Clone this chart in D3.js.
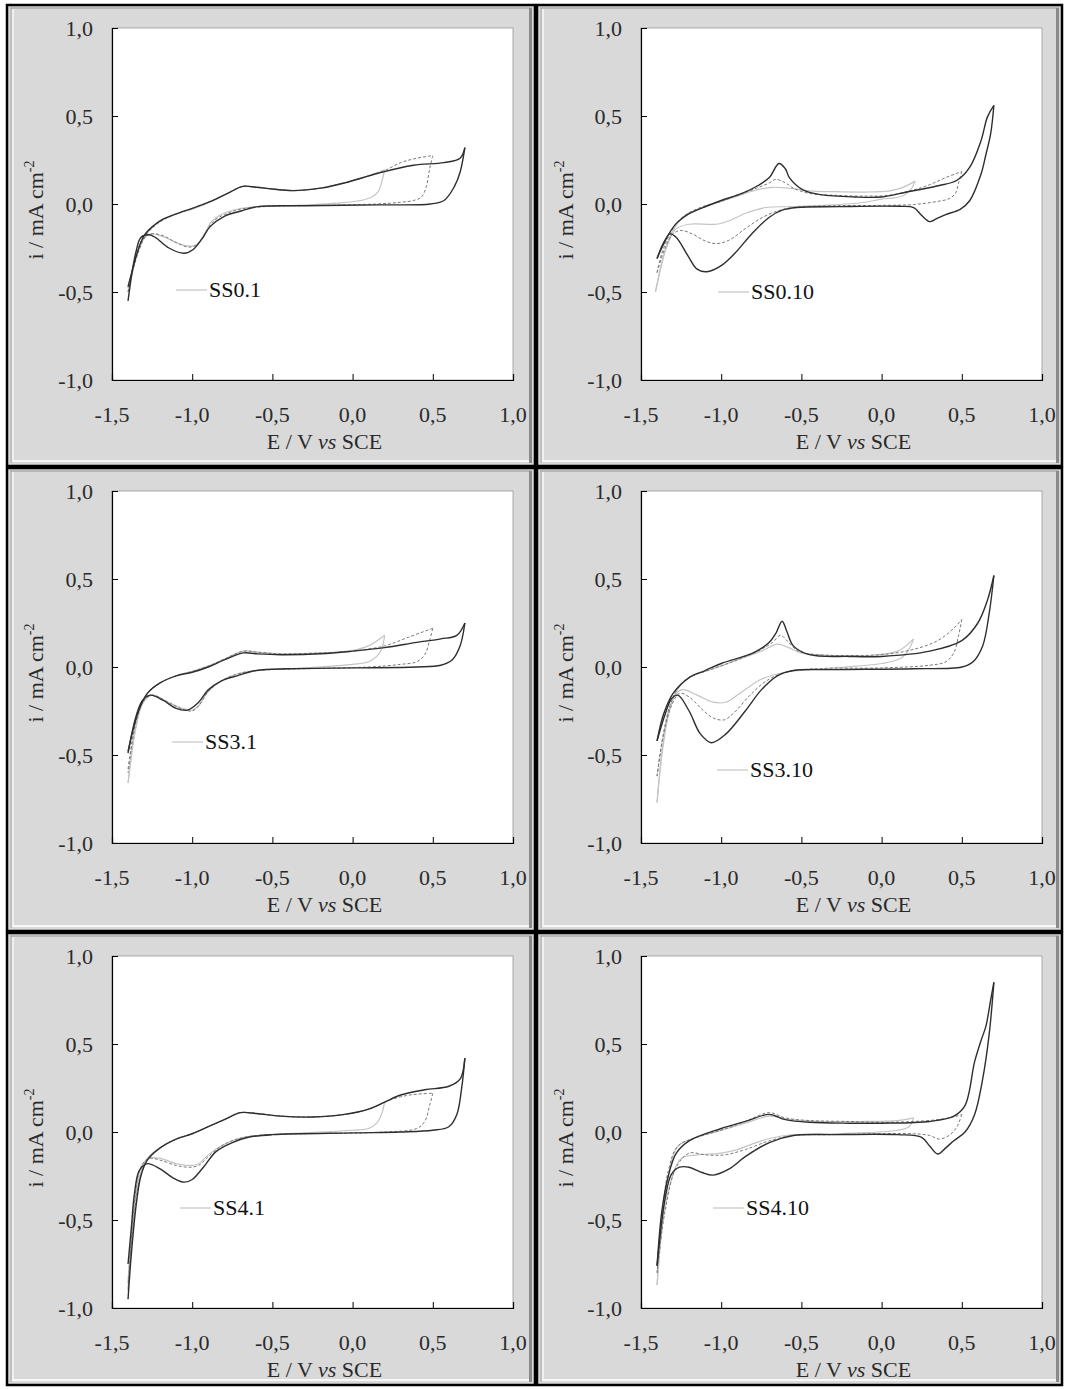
<!DOCTYPE html>
<html><head><meta charset="utf-8">
<script src="https://cdn.jsdelivr.net/npm/d3@7"></script>
<style>body{margin:0;background:#fff} svg{display:block}</style>
</head><body><svg id="c" width="1067" height="1389"></svg>
<script>
// ---- data ----
const xTicks = [-1.5, -1.0, -0.5, 0.0, 0.5, 1.0];
const yTicks = [-1.0, -0.5, 0.0, 0.5, 1.0];
const panelNames = ["SS0.1", "SS0.10", "SS3.1", "SS3.10", "SS4.1", "SS4.10"];
const xTitle = ["E / V ", "vs", " SCE"];
const yTitle = ["i / mA cm", "-2"];

// SS0.1
const ss01Black = [[-1.40,-0.47],[-1.38,-0.40],[-1.34,-0.27],[-1.30,-0.18],[-1.25,-0.13],[-1.19,-0.09],[-1.08,-0.05],[-1.00,-0.025],[-0.89,0.013],[-0.78,0.06],[-0.685,0.10],[-0.60,0.095],[-0.50,0.085],[-0.37,0.076],[-0.20,0.09],[-0.05,0.12],[0.16,0.175],[0.38,0.22],[0.57,0.235],[0.67,0.26],[0.70,0.32],
  [0.67,0.18],[0.635,0.10],[0.57,0.02],[0.485,0.0],[0.16,-0.005],[-0.30,-0.01],[-0.59,-0.015],[-0.695,-0.04],[-0.80,-0.07],[-0.89,-0.13],[-0.94,-0.20],[-0.996,-0.26],[-1.05,-0.28],[-1.145,-0.25],[-1.23,-0.19],[-1.27,-0.175],[-1.32,-0.19],[-1.35,-0.27],[-1.37,-0.36],[-1.40,-0.55]];
const ss01Dash = [[-1.40,-0.50],[-1.37,-0.38],[-1.33,-0.26],[-1.29,-0.18],[-1.24,-0.13],[-1.18,-0.09],[-1.08,-0.05],[-1.0,-0.025],[-0.89,0.013],[-0.78,0.06],[-0.685,0.10],[-0.60,0.095],[-0.50,0.085],[-0.37,0.076],[-0.20,0.09],[-0.05,0.12],[0.10,0.16],[0.20,0.19],[0.30,0.235],[0.40,0.26],[0.50,0.275],
  [0.48,0.20],[0.46,0.10],[0.43,0.04],[0.38,0.02],[0.30,0.01],[0.15,0.0],[-0.20,-0.008],[-0.55,-0.015],[-0.70,-0.03],[-0.80,-0.06],[-0.87,-0.10],[-0.92,-0.17],[-0.97,-0.23],[-1.02,-0.245],[-1.10,-0.22],[-1.18,-0.18],[-1.26,-0.17],[-1.31,-0.20],[-1.35,-0.30],[-1.40,-0.50]];
const ss01Light = [[-1.40,-0.48],[-1.36,-0.33],[-1.32,-0.22],[-1.27,-0.15],[-1.2,-0.1],[-1.08,-0.05],[-1.0,-0.03],[-0.89,0.01],[-0.78,0.06],[-0.685,0.10],[-0.6,0.095],[-0.5,0.085],[-0.37,0.076],[-0.2,0.09],[-0.05,0.12],[0.10,0.16],[0.20,0.195],
  [0.18,0.12],[0.16,0.07],[0.12,0.04],[0.05,0.02],[-0.1,0.005],[-0.4,-0.01],[-0.6,-0.015],[-0.72,-0.03],[-0.82,-0.06],[-0.88,-0.10],[-0.93,-0.18],[-0.98,-0.235],[-1.05,-0.235],[-1.12,-0.21],[-1.2,-0.18],[-1.26,-0.17],[-1.31,-0.21],[-1.35,-0.3],[-1.40,-0.48]];

// SS0.10
const ss010Black = [[-1.40,-0.31],[-1.37,-0.24],[-1.34,-0.19],[-1.28,-0.11],[-1.21,-0.06],[-1.085,-0.01],[-1.0,0.02],[-0.87,0.06],[-0.77,0.105],[-0.70,0.15],[-0.64,0.23],[-0.60,0.20],[-0.575,0.15],[-0.49,0.08],[-0.38,0.053],[-0.17,0.04],[0.0,0.04],[0.15,0.067],[0.255,0.085],[0.36,0.105],[0.47,0.135],[0.55,0.21],[0.62,0.36],[0.66,0.495],[0.70,0.56],
  [0.68,0.40],[0.65,0.28],[0.62,0.17],[0.55,0.02],[0.49,-0.03],[0.40,-0.06],[0.34,-0.085],[0.30,-0.10],[0.25,-0.065],[0.20,-0.02],[0.11,-0.013],[-0.27,-0.015],[-0.53,-0.02],[-0.62,-0.035],[-0.70,-0.075],[-0.81,-0.17],[-0.915,-0.28],[-1.0,-0.35],[-1.09,-0.385],[-1.15,-0.37],[-1.21,-0.29],[-1.28,-0.19],[-1.32,-0.17],[-1.36,-0.23],[-1.40,-0.31]];
const ss010Dash = [[-1.40,-0.39],[-1.37,-0.28],[-1.33,-0.19],[-1.27,-0.10],[-1.2,-0.05],[-1.1,-0.01],[-1.0,0.015],[-0.9,0.05],[-0.78,0.09],[-0.70,0.12],[-0.66,0.14],[-0.60,0.12],[-0.55,0.09],[-0.45,0.06],[-0.3,0.05],[-0.1,0.045],[0.05,0.05],[0.2,0.08],[0.3,0.11],[0.4,0.15],[0.5,0.185],
  [0.48,0.12],[0.46,0.06],[0.42,0.03],[0.35,0.015],[0.2,-0.003],[0.0,-0.008],[-0.3,-0.01],[-0.55,-0.02],[-0.65,-0.04],[-0.75,-0.08],[-0.85,-0.14],[-0.95,-0.205],[-1.03,-0.225],[-1.1,-0.21],[-1.18,-0.17],[-1.25,-0.15],[-1.30,-0.17],[-1.35,-0.25],[-1.40,-0.39]];
const ss010Light = [[-1.41,-0.50],[-1.37,-0.34],[-1.33,-0.21],[-1.28,-0.12],[-1.22,-0.06],[-1.1,-0.015],[-1.0,0.015],[-0.9,0.045],[-0.78,0.08],[-0.68,0.095],[-0.58,0.09],[-0.45,0.075],[-0.3,0.07],[-0.1,0.068],[0.05,0.075],[0.12,0.09],[0.17,0.11],[0.21,0.13],
  [0.18,0.08],[0.14,0.05],[0.08,0.035],[0.0,0.028],[-0.1,0.01],[-0.3,-0.005],[-0.55,-0.015],[-0.72,-0.02],[-0.84,-0.05],[-0.95,-0.095],[-1.03,-0.115],[-1.2,-0.115],[-1.28,-0.14],[-1.33,-0.22],[-1.37,-0.33],[-1.41,-0.50]];

// SS3.1
const ss31Black = [[-1.40,-0.48],[-1.37,-0.36],[-1.33,-0.24],[-1.28,-0.15],[-1.2,-0.09],[-1.1,-0.05],[-1.0,-0.03],[-0.9,0.0],[-0.8,0.04],[-0.68,0.08],[-0.6,0.075],[-0.45,0.07],[-0.2,0.075],[0.0,0.09],[0.2,0.11],[0.4,0.14],[0.55,0.16],[0.65,0.18],[0.70,0.25],
  [0.67,0.12],[0.62,0.04],[0.55,0.01],[0.4,0.0],[0.0,-0.005],[-0.4,-0.01],[-0.6,-0.02],[-0.72,-0.05],[-0.82,-0.08],[-0.9,-0.13],[-0.96,-0.2],[-1.03,-0.245],[-1.1,-0.235],[-1.18,-0.19],[-1.26,-0.16],[-1.31,-0.19],[-1.35,-0.28],[-1.40,-0.49]];
const ss31Dash = [[-1.40,-0.58],[-1.36,-0.35],[-1.32,-0.22],[-1.27,-0.14],[-1.2,-0.09],[-1.1,-0.05],[-1.0,-0.025],[-0.9,0.005],[-0.8,0.045],[-0.68,0.09],[-0.6,0.085],[-0.45,0.075],[-0.2,0.08],[0.0,0.09],[0.2,0.12],[0.35,0.17],[0.5,0.22],
  [0.48,0.15],[0.45,0.07],[0.4,0.03],[0.3,0.015],[0.1,0.0],[-0.3,-0.01],[-0.6,-0.02],[-0.72,-0.04],[-0.82,-0.08],[-0.9,-0.14],[-0.96,-0.22],[-1.0,-0.25],[-1.06,-0.24],[-1.15,-0.2],[-1.25,-0.16],[-1.31,-0.2],[-1.35,-0.3],[-1.40,-0.6]];
const ss31Light = [[-1.40,-0.66],[-1.36,-0.38],[-1.32,-0.23],[-1.27,-0.14],[-1.2,-0.09],[-1.1,-0.05],[-1.0,-0.025],[-0.9,0.005],[-0.8,0.045],[-0.68,0.09],[-0.6,0.085],[-0.45,0.075],[-0.2,0.08],[0.0,0.095],[0.1,0.12],[0.2,0.18],
  [0.18,0.1],[0.15,0.06],[0.1,0.03],[0.0,0.015],[-0.3,-0.005],[-0.6,-0.02],[-0.72,-0.04],[-0.82,-0.08],[-0.9,-0.14],[-0.96,-0.22],[-1.0,-0.245],[-1.06,-0.235],[-1.15,-0.2],[-1.25,-0.16],[-1.31,-0.21],[-1.35,-0.34],[-1.40,-0.66]];

// SS3.10
const ss310Black = [[-1.40,-0.42],[-1.36,-0.27],[-1.3,-0.15],[-1.2,-0.06],[-1.1,-0.02],[-1.0,0.02],[-0.8,0.08],[-0.7,0.14],[-0.66,0.19],[-0.62,0.26],[-0.59,0.2],[-0.55,0.12],[-0.45,0.07],[-0.2,0.06],[0.0,0.06],[0.3,0.09],[0.5,0.15],[0.6,0.25],[0.66,0.38],[0.70,0.52],
  [0.67,0.3],[0.63,0.12],[0.57,0.03],[0.5,0.0],[0.2,-0.01],[-0.3,-0.015],[-0.55,-0.02],[-0.65,-0.05],[-0.75,-0.13],[-0.85,-0.25],[-0.97,-0.38],[-1.06,-0.43],[-1.13,-0.38],[-1.2,-0.25],[-1.27,-0.16],[-1.31,-0.18],[-1.35,-0.27],[-1.40,-0.42]];
const ss310Dash = [[-1.40,-0.62],[-1.36,-0.38],[-1.32,-0.22],[-1.27,-0.12],[-1.2,-0.06],[-1.05,-0.01],[-0.9,0.04],[-0.75,0.1],[-0.68,0.14],[-0.63,0.18],[-0.58,0.14],[-0.52,0.09],[-0.4,0.07],[-0.2,0.065],[0.0,0.07],[0.2,0.1],[0.35,0.15],[0.45,0.22],[0.5,0.27],
  [0.48,0.18],[0.45,0.08],[0.4,0.03],[0.3,0.01],[0.0,-0.005],[-0.4,-0.01],[-0.6,-0.03],[-0.72,-0.08],[-0.82,-0.16],[-0.92,-0.26],[-0.98,-0.30],[-1.05,-0.29],[-1.12,-0.24],[-1.2,-0.17],[-1.26,-0.15],[-1.31,-0.22],[-1.36,-0.38],[-1.40,-0.62]];
const ss310Light = [[-1.40,-0.77],[-1.37,-0.5],[-1.33,-0.28],[-1.28,-0.14],[-1.2,-0.06],[-1.05,-0.01],[-0.9,0.04],[-0.75,0.09],[-0.65,0.13],[-0.58,0.11],[-0.5,0.08],[-0.3,0.065],[-0.1,0.065],[0.1,0.09],[0.2,0.16],
  [0.17,0.1],[0.12,0.05],[0.0,0.02],[-0.3,-0.005],[-0.6,-0.03],[-0.75,-0.07],[-0.87,-0.14],[-0.97,-0.2],[-1.05,-0.2],[-1.15,-0.16],[-1.25,-0.13],[-1.31,-0.2],[-1.36,-0.42],[-1.40,-0.77]];

// SS4.1
const ss41Black = [[-1.40,-0.95],[-1.38,-0.7],[-1.35,-0.42],[-1.32,-0.25],[-1.28,-0.16],[-1.2,-0.09],[-1.1,-0.04],[-1.0,-0.01],[-0.9,0.03],[-0.8,0.07],[-0.7,0.11],[-0.6,0.105],[-0.45,0.09],[-0.25,0.085],[-0.05,0.1],[0.1,0.13],[0.2,0.17],[0.3,0.21],[0.45,0.24],[0.6,0.26],[0.67,0.3],[0.70,0.42],
  [0.68,0.25],[0.65,0.1],[0.6,0.03],[0.5,0.01],[0.3,0.0],[0.0,-0.005],[-0.5,-0.015],[-0.65,-0.03],[-0.75,-0.06],[-0.85,-0.11],[-0.93,-0.2],[-1.0,-0.27],[-1.05,-0.285],[-1.12,-0.26],[-1.2,-0.21],[-1.28,-0.18],[-1.33,-0.22],[-1.36,-0.35],[-1.38,-0.55],[-1.40,-0.75]];
const ss41Dash = [[-1.40,-0.9],[-1.37,-0.55],[-1.33,-0.28],[-1.28,-0.16],[-1.2,-0.09],[-1.1,-0.04],[-1.0,-0.01],[-0.9,0.03],[-0.8,0.07],[-0.7,0.11],[-0.6,0.105],[-0.45,0.09],[-0.25,0.085],[-0.05,0.1],[0.1,0.13],[0.2,0.17],[0.3,0.2],[0.4,0.215],[0.5,0.22],
  [0.48,0.15],[0.45,0.06],[0.4,0.02],[0.2,0.0],[-0.3,-0.01],[-0.6,-0.02],[-0.72,-0.04],[-0.82,-0.08],[-0.9,-0.14],[-0.96,-0.19],[-1.02,-0.2],[-1.1,-0.19],[-1.2,-0.16],[-1.27,-0.15],[-1.32,-0.2],[-1.36,-0.4],[-1.40,-0.9]];
const ss41Light = [[-1.40,-0.86],[-1.37,-0.5],[-1.33,-0.26],[-1.28,-0.15],[-1.2,-0.09],[-1.1,-0.04],[-1.0,-0.01],[-0.9,0.03],[-0.8,0.07],[-0.7,0.11],[-0.6,0.105],[-0.45,0.09],[-0.25,0.085],[-0.05,0.1],[0.1,0.13],[0.2,0.17],
  [0.18,0.1],[0.15,0.05],[0.1,0.02],[0.0,0.01],[-0.3,-0.005],[-0.6,-0.02],[-0.72,-0.04],[-0.82,-0.08],[-0.9,-0.13],[-0.96,-0.18],[-1.02,-0.19],[-1.1,-0.18],[-1.2,-0.15],[-1.27,-0.15],[-1.32,-0.2],[-1.36,-0.4],[-1.40,-0.86]];

// SS4.10
const ss410Black = [[-1.40,-0.76],[-1.37,-0.45],[-1.33,-0.25],[-1.28,-0.12],[-1.2,-0.05],[-1.0,0.02],[-0.85,0.06],[-0.7,0.1],[-0.6,0.07],[-0.45,0.055],[-0.2,0.05],[0.0,0.05],[0.3,0.06],[0.45,0.09],[0.52,0.15],[0.58,0.4],[0.62,0.52],[0.65,0.6],[0.68,0.75],[0.70,0.85],
  [0.67,0.55],[0.63,0.3],[0.58,0.1],[0.52,0.0],[0.45,-0.05],[0.4,-0.09],[0.35,-0.125],[0.3,-0.08],[0.25,-0.03],[0.1,-0.015],[-0.3,-0.015],[-0.55,-0.02],[-0.7,-0.06],[-0.85,-0.14],[-0.95,-0.21],[-1.05,-0.245],[-1.12,-0.23],[-1.2,-0.2],[-1.26,-0.2],[-1.31,-0.24],[-1.35,-0.38],[-1.40,-0.76]];
const ss410Dash = [[-1.40,-0.8],[-1.37,-0.5],[-1.33,-0.22],[-1.27,-0.08],[-1.15,-0.03],[-1.0,0.01],[-0.85,0.06],[-0.7,0.11],[-0.6,0.08],[-0.45,0.065],[-0.2,0.06],[0.0,0.055],[0.2,0.06],[0.35,0.07],[0.45,0.085],[0.5,0.10],
  [0.47,0.03],[0.42,-0.02],[0.36,-0.04],[0.3,-0.02],[0.2,-0.01],[-0.3,-0.015],[-0.55,-0.02],[-0.7,-0.05],[-0.85,-0.1],[-0.98,-0.13],[-1.1,-0.13],[-1.2,-0.12],[-1.28,-0.2],[-1.35,-0.45],[-1.40,-0.8]];
const ss410Light = [[-1.40,-0.87],[-1.37,-0.55],[-1.33,-0.25],[-1.27,-0.08],[-1.15,-0.03],[-1.0,0.01],[-0.85,0.05],[-0.7,0.09],[-0.6,0.075],[-0.4,0.06],[-0.1,0.06],[0.1,0.065],[0.2,0.08],
  [0.17,0.03],[0.1,0.01],[-0.3,-0.01],[-0.6,-0.02],[-0.75,-0.05],[-0.9,-0.1],[-1.0,-0.12],[-1.15,-0.13],[-1.25,-0.15],[-1.32,-0.3],[-1.37,-0.55],[-1.40,-0.87]];

const panelSeries = [
  [ss01Light, ss01Dash, ss01Black],
  [ss010Light, ss010Dash, ss010Black],
  [ss31Light, ss31Dash, ss31Black],
  [ss310Light, ss310Dash, ss310Black],
  [ss41Light, ss41Dash, ss41Black],
  [ss410Light, ss410Dash, ss410Black]
];

// ---- layout / style ----
const cols = [{x:7, w:528, pl:105}, {x:537, w:525, pl:104}];
const rows = [{y:5, h:461}, {y:468, h:463}, {y:933, h:452}];
const PW = 401, PH = 352, PT = 23;
const legendPos = [[64,262],[77,264],[60,251],[76,279],[68,252],[72,252]];
const styles = [
  {stroke:"#c4c4c4", width:1.2, dash:null},
  {stroke:"#7a7a7a", width:1.0, dash:"3,2"},
  {stroke:"#2e2e2e", width:1.4, dash:null}
];
const FONT = "'Liberation Serif','Times New Roman',Times,serif";
const FS = 22;

const svg = d3.select("#c");
svg.append("rect").attr("width",1067).attr("height",1389).attr("fill","#fff");

const fmt = d => d3.format(".1f")(d).replace(".", ",").replace("\u2212", "-");

panelNames.forEach((name, k) => {
  const c = cols[k % 2], r = rows[Math.floor(k / 2)];
  const g = svg.append("g");
  // frame
  g.append("rect").attr("x", c.x).attr("y", r.y).attr("width", c.w).attr("height", r.h)
    .attr("fill", "#d9d9d9").attr("stroke", "#000").attr("stroke-width", 2.5);
  g.append("line").attr("x1", c.x+3).attr("x2", c.x+c.w-3).attr("y1", r.y+3).attr("y2", r.y+3).attr("stroke","#ababab").attr("stroke-width",1.5);
  g.append("line").attr("x1", c.x+4).attr("x2", c.x+4).attr("y1", r.y+3).attr("y2", r.y+r.h-3).attr("stroke","#a5a5a5").attr("stroke-width",1);
  g.append("line").attr("x1", c.x+6).attr("x2", c.x+6).attr("y1", r.y+4).attr("y2", r.y+r.h-5).attr("stroke","#f0f0f0").attr("stroke-width",2);
  g.append("line").attr("x1", c.x+c.w-4.5).attr("x2", c.x+c.w-4.5).attr("y1", r.y+3).attr("y2", r.y+r.h-3).attr("stroke","#8a8a8a").attr("stroke-width",3);
  g.append("line").attr("x1", c.x+5).attr("x2", c.x+c.w-6).attr("y1", r.y+r.h-5).attr("y2", r.y+r.h-5).attr("stroke","#f7f7f7").attr("stroke-width",2);

  const left = c.x + c.pl, top = r.y + PT;
  const x = d3.scaleLinear().domain([-1.5, 1.0]).range([left, left + PW]);
  const y = d3.scaleLinear().domain([-1.0, 1.0]).range([top + PH, top]);

  g.append("rect").attr("x", left).attr("y", top).attr("width", PW).attr("height", PH)
    .attr("fill", "#fff").attr("stroke", "#9a9a9a").attr("stroke-width", 0.8);

  // axes (ticks inward)
  const xa = g.append("g").attr("transform", `translate(0,${top+PH})`)
    .call(d3.axisTop(x).tickValues(xTicks).tickSize(6).tickFormat(""));
  const ya = g.append("g").attr("transform", `translate(${left},0)`)
    .call(d3.axisRight(y).tickValues(yTicks).tickSize(6).tickFormat(""));
  [xa, ya].forEach(a => { a.select(".domain").attr("stroke", "#000").attr("stroke-width", 1.2);
    a.selectAll(".tick line").attr("stroke", "#000").attr("stroke-width", 1); });

  // tick labels
  g.selectAll(".xl").data(xTicks).enter().append("text")
    .attr("x", d => x(d)).attr("y", top + PH + 42).attr("text-anchor", "middle")
    .attr("font-family", FONT).attr("font-size", FS).attr("fill", "#2a2a2a").text(fmt);
  g.selectAll(".yl").data(yTicks).enter().append("text")
    .attr("x", left - 19).attr("y", d => y(d) + 7.5).attr("text-anchor", "end")
    .attr("font-family", FONT).attr("font-size", FS).attr("fill", "#2a2a2a").text(fmt);

  // axis titles
  const xt = g.append("text").attr("x", left + PW/2 + 12).attr("y", top + PH + 69).attr("text-anchor", "middle")
    .attr("font-family", FONT).attr("font-size", FS).attr("fill", "#2a2a2a");
  xt.append("tspan").text(xTitle[0]);
  xt.append("tspan").attr("font-style", "italic").text(xTitle[1]);
  xt.append("tspan").text(xTitle[2]);
  const yt = g.append("text").attr("transform", `translate(${c.x + 36},${top + PH/2 + 6}) rotate(-90)`)
    .attr("text-anchor", "middle").attr("font-family", FONT).attr("font-size", FS).attr("fill", "#2a2a2a");
  yt.append("tspan").text(yTitle[0]);
  yt.append("tspan").attr("font-size", 14).attr("dy", -9).text(yTitle[1]);

  // curves
  const line = d3.line().x(d => x(d[0])).y(d => y(d[1])).curve(d3.curveCatmullRom.alpha(0.5));
  panelSeries[k].forEach((pts, si) => {
    const st = styles[si];
    let im = 0; pts.forEach((p, i) => { if (p[0] > pts[im][0]) im = i; });
    [pts.slice(0, im + 1), pts.slice(im)].forEach(seg => {
      const p = g.append("path").attr("d", line(seg)).attr("fill", "none")
        .attr("stroke", st.stroke).attr("stroke-width", st.width).attr("stroke-linejoin","round");
      if (st.dash) p.attr("stroke-dasharray", st.dash);
    });
  });

  // legend
  const [lx, ly] = legendPos[k];
  g.append("line").attr("x1", left + lx).attr("x2", left + lx + 31).attr("y1", top + ly).attr("y2", top + ly)
    .attr("stroke", "#c4c4c4").attr("stroke-width", 1.2);
  g.append("text").attr("x", left + lx + 33).attr("y", top + ly + 7)
    .attr("font-family", FONT).attr("font-size", FS).attr("fill", "#111").text(name);
});
</script></body></html>
